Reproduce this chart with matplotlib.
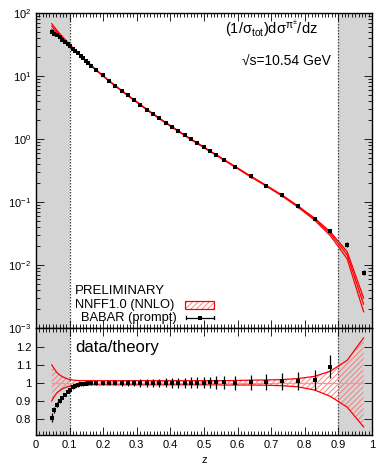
import numpy as np
import matplotlib
matplotlib.use('Agg')
import matplotlib.pyplot as plt
from matplotlib.ticker import LogLocator, MultipleLocator, FixedLocator, FuncFormatter, NullFormatter
from matplotlib.patches import Rectangle

plt.rcParams['font.family'] = ['Liberation Sans', 'DejaVu Sans']
plt.rcParams['mathtext.fontset'] = 'custom'
plt.rcParams['mathtext.rm'] = 'Liberation Sans'
plt.rcParams['mathtext.it'] = 'Liberation Sans:italic'
plt.rcParams['mathtext.bf'] = 'Liberation Sans:bold'
plt.rcParams['mathtext.default'] = 'regular'
plt.rcParams['hatch.linewidth'] = 0.6

# ---------------- data ----------------
z = [0.047, 0.055, 0.062, 0.070, 0.078, 0.086, 0.094, 0.101, 0.109, 0.117,
     0.125, 0.133, 0.141, 0.148, 0.156, 0.164, 0.178, 0.198, 0.218, 0.236,
     0.255, 0.273, 0.292, 0.311, 0.330, 0.349, 0.367, 0.386, 0.405, 0.424,
     0.443, 0.461, 0.480, 0.499, 0.518, 0.537, 0.559, 0.593, 0.639, 0.686,
     0.733, 0.779, 0.829, 0.876, 0.926, 0.975]

theory = [61.4, 55.2, 50.5, 45.6, 41.2, 37.2, 33.7, 30.8, 28.0, 25.4,
          23.1, 21.0, 19.1, 17.6, 16.1, 14.7, 12.5, 10.2, 8.32, 6.98,
          5.82, 4.92, 4.15, 3.48, 2.93, 2.48, 2.12, 1.81, 1.55, 1.33,
          1.14, 0.989, 0.859, 0.741, 0.638, 0.556, 0.468, 0.361, 0.254, 0.180,
          0.126, 0.0851, 0.0537, 0.0316, 0.0145, 0.0024]

theory_up = [0.100, 0.076, 0.058, 0.045, 0.035, 0.028, 0.022, 0.018, 0.016, 0.014,
             0.013, 0.012, 0.012, 0.012, 0.012, 0.012, 0.012, 0.012, 0.012, 0.012,
             0.012, 0.012, 0.012, 0.012, 0.012, 0.012, 0.012, 0.012, 0.012, 0.012,
             0.012, 0.012, 0.012, 0.012, 0.012, 0.012, 0.012, 0.013, 0.015, 0.016,
             0.018, 0.024, 0.036, 0.065, 0.125, 0.250]

theory_dn = [0.100, 0.074, 0.056, 0.044, 0.034, 0.027, 0.021, 0.018, 0.015, 0.014,
             0.013, 0.012, 0.011, 0.011, 0.011, 0.011, 0.011, 0.011, 0.011, 0.011,
             0.011, 0.011, 0.011, 0.011, 0.011, 0.011, 0.011, 0.011, 0.011, 0.011,
             0.011, 0.011, 0.011, 0.011, 0.011, 0.011, 0.012, 0.012, 0.012, 0.013,
             0.016, 0.022, 0.040, 0.075, 0.135, 0.245]

ratio = [0.806, 0.850, 0.878, 0.900, 0.918, 0.935, 0.950, 0.963, 0.975, 0.983,
         0.988, 0.992, 0.994, 0.996, 0.997, 0.998, 0.999, 1.000, 1.000, 1.000,
         0.998, 0.998, 0.999, 0.999, 1.000, 1.000, 1.000, 1.000, 1.000, 1.000,
         1.000, 1.000, 1.001, 1.001, 1.002, 1.002, 1.003, 1.000, 1.002, 1.004,
         1.008, 1.008, 1.015, 1.090, 1.450, 3.160]

ratio_err = [0.025, 0.015, 0.013, 0.012, 0.010, 0.010, 0.009, 0.009, 0.009, 0.009,
             0.009, 0.010, 0.010, 0.010, 0.011, 0.011, 0.012, 0.012, 0.013, 0.014,
             0.016, 0.017, 0.018, 0.020, 0.021, 0.022, 0.024, 0.025, 0.026, 0.027,
             0.028, 0.030, 0.031, 0.032, 0.033, 0.035, 0.036, 0.038, 0.040, 0.043,
             0.047, 0.050, 0.057, 0.065, 0.120, 0.300]

cut_lo, cut_hi = 0.1, 0.9
ytick_labels_ratio = [0.8, 0.9, 1.0, 1.1, 1.2]

z_a = np.array(z)
th = np.array(theory)
up = np.array(theory_up)
dn = np.array(theory_dn)
r = np.array(ratio)
re = np.array(ratio_err)
data = th * r
data_err = th * re

# ---------------- figure ----------------
W, H = 376, 467
fig = plt.figure(figsize=(W / 100, H / 100), dpi=100)
L, R = 36, 372
ax1 = fig.add_axes([L / W, 1 - 328 / H, (R - L) / W, 315 / H])
ax2 = fig.add_axes([L / W, 1 - 435 / H, (R - L) / W, 107 / H])

red = '#ff0000'
hatch_col = '#ff7070'
gray = '#d4d4d4'
ms = 2.4

for ax in (ax1, ax2):
    ax.set_xlim(0, 1)
    ax.axvspan(0, cut_lo, color=gray, zorder=0, lw=0)
    ax.axvspan(cut_hi, 1, color=gray, zorder=0, lw=0)
    ax.axvline(cut_lo, color='#444444', ls=(0, (1.2, 1.2)), lw=0.9, zorder=1)
    ax.axvline(cut_hi, color='#444444', ls=(0, (1.2, 1.2)), lw=0.9, zorder=1)
    ax.xaxis.set_major_locator(MultipleLocator(0.1))
    ax.xaxis.set_minor_locator(MultipleLocator(0.01))
    ax.tick_params(which='both', direction='in', top=True, right=True,
                   labelsize=8, color='black', width=0.6)
    ax.tick_params(which='major', length=6)
    ax.tick_params(which='minor', length=3)
    for s in ax.spines.values():
        s.set_linewidth(1.0)

# ---------------- top panel ----------------
ax1.set_yscale('log')
ax1.set_ylim(1e-3, 1e2)
ax1.fill_between(z_a, th * (1 + up), th * (1 - dn), facecolor='none',
                 edgecolor=hatch_col, hatch='//////', lw=0, zorder=2)
ax1.plot(z_a, th * (1 + up), color=red, lw=0.9, zorder=3)
ax1.plot(z_a, th * (1 - dn), color=red, lw=0.9, zorder=3)
ax1.plot(z_a, th, color=red, lw=0.9, zorder=3)
ax1.errorbar(z_a, data, yerr=data_err, fmt='s', ms=ms, mew=0, color='black',
             ecolor='black', elinewidth=0.9, capsize=0, zorder=4)
ax1.yaxis.set_major_locator(LogLocator(base=10, numticks=10))
ax1.yaxis.set_minor_locator(LogLocator(base=10, subs=np.arange(2, 10), numticks=20))
ax1.yaxis.set_minor_formatter(NullFormatter())
ax1.tick_params(axis='x', labelbottom=False)

ax1.text(0.5625, 0.952,
         r'$(1/\sigma_{\mathrm{tot}})\mathrm{d}\sigma^{\pi^{\pm}}/\mathrm{dz}$',
         transform=ax1.transAxes, ha='left', va='center', fontsize=10.5)
ax1.text(0.878, 0.845, '√s=10.54 GeV', transform=ax1.transAxes,
         ha='right', va='center', fontsize=10)

# legend (manual)
ax1.text(0.116, 0.118, 'PRELIMINARY', transform=ax1.transAxes,
         ha='left', va='center', fontsize=9.5)
ax1.text(0.116, 0.073, 'NNFF1.0 (NNLO)', transform=ax1.transAxes,
         ha='left', va='center', fontsize=9.3)
ax1.text(0.418, 0.033, 'BABAR (prompt)', transform=ax1.transAxes,
         ha='right', va='center', fontsize=9.3)
ax1.add_patch(Rectangle((0.443, 0.060), 0.087, 0.027, transform=ax1.transAxes,
                        facecolor='none', edgecolor=hatch_col, hatch='//////',
                        lw=0, zorder=5))
ax1.add_patch(Rectangle((0.443, 0.060), 0.087, 0.027, transform=ax1.transAxes,
                        facecolor='none', edgecolor=red, lw=0.9, zorder=6))
ax1.plot([0.446, 0.530], [0.033, 0.033], transform=ax1.transAxes,
         color='black', lw=0.9, zorder=6)
ax1.plot([0.446, 0.446], [0.027, 0.039], transform=ax1.transAxes,
         color='black', lw=0.9, zorder=6)
ax1.plot([0.530, 0.530], [0.027, 0.039], transform=ax1.transAxes,
         color='black', lw=0.9, zorder=6)
ax1.plot([0.488], [0.033], 's', ms=ms, mew=0, color='black',
         transform=ax1.transAxes, zorder=6)

# ---------------- ratio panel ----------------
ax2.set_ylim(0.71, 1.305)
ax2.fill_between(z_a, 1 + up, 1 - dn, facecolor='none', edgecolor=hatch_col,
                 hatch='//////', lw=0, zorder=2)
ax2.plot(z_a, 1 + up, color=red, lw=0.9, zorder=3)
ax2.plot(z_a, 1 - dn, color=red, lw=0.9, zorder=3)
ax2.plot(z_a, np.ones_like(z_a), color='#ff9090', lw=0.9, zorder=3)
ax2.errorbar(z_a, r, yerr=re, fmt='s', ms=ms, mew=0, color='black',
             ecolor='black', elinewidth=0.9, capsize=0, zorder=4)
ax2.yaxis.set_major_locator(FixedLocator(ytick_labels_ratio))
ax2.yaxis.set_major_formatter(FuncFormatter(lambda v, p: '%g' % round(v, 2)))
ax2.xaxis.set_major_formatter(FuncFormatter(lambda v, p: '%g' % round(v, 2)))
ax2.set_xlabel('z', fontsize=8, labelpad=4)
ax2.text(0.116, 0.82, 'data/theory', transform=ax2.transAxes, ha='left',
         va='center', fontsize=12)

fig.savefig('out.png', dpi=100)
